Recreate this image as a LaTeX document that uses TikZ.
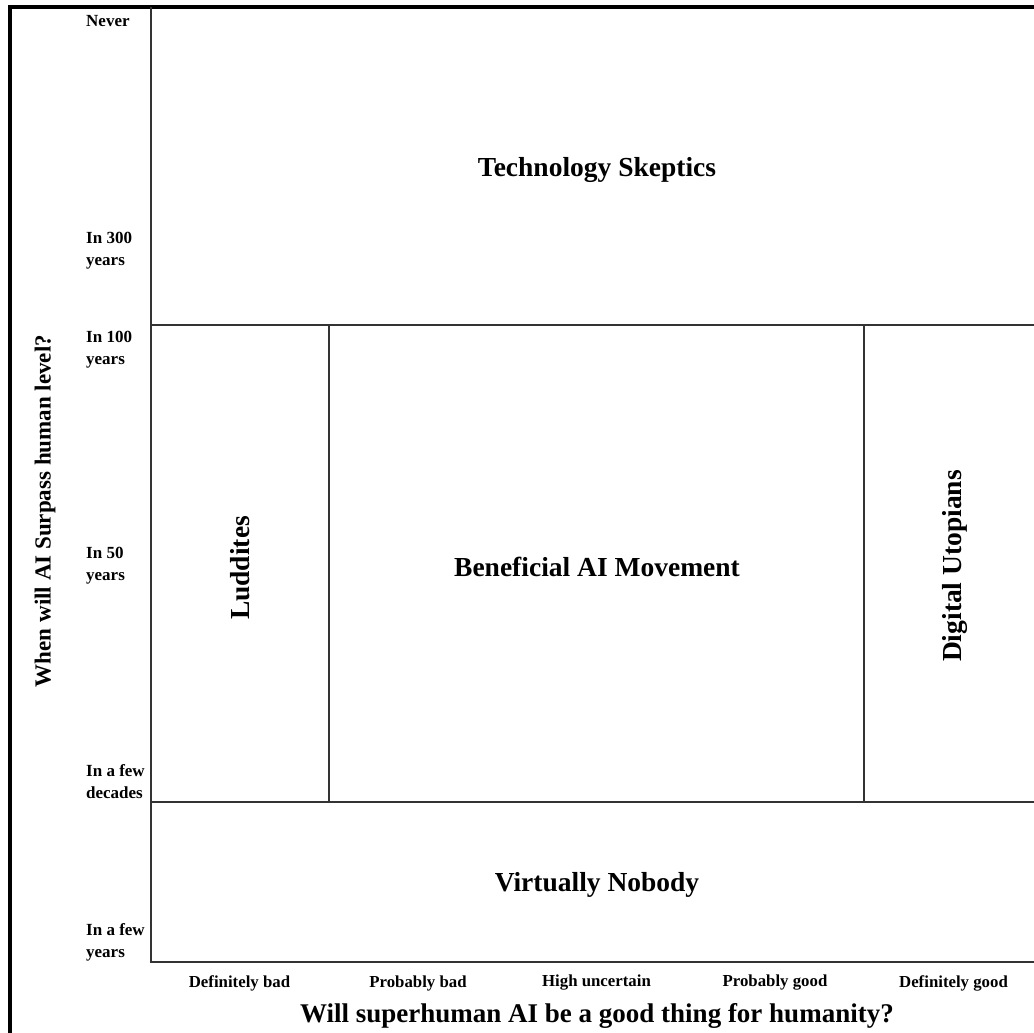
\documentclass[tikz,border=0pt]{standalone}
\usepackage{fontspec}
\setmainfont{Liberation Serif}
\begin{document}
\begin{tikzpicture}[x=1pt,y=-1pt,
  region/.style={font=\fontsize{27.5}{33}\selectfont\bfseries},
  title/.style={font=\fontsize{27}{32}\selectfont\bfseries},
  ylabel/.style={font=\fontsize{17}{22}\selectfont\bfseries,
    align=left,anchor=west,inner sep=0pt},
  xlabel/.style={font=\fontsize{16.8}{20}\selectfont\bfseries,inner sep=0pt},
  grid/.style={draw=black!80,line width=1.2pt}]
  \useasboundingbox (0,0) rectangle (1034,1033);
  \clip (0,0) rectangle (1034,1033);
  % frame
  \draw[line width=4pt] (9.5,1040) |- (1040,7);
  % axes and cells
  \draw[grid] (151,7) -- (151,962) -- (1040,962);
  \draw[grid] (151,325) -- (1040,325);
  \draw[grid] (151,802) -- (1040,802);
  \draw[grid] (329,325) -- (329,802);
  \draw[grid] (864,325) -- (864,802);
  % cells
  \path (597,170) node[region] (skeptics) {Technology Skeptics};
  \path (597,567) node[region] (beneficial) {Beneficial AI Movement};
  \path (597,885) node[region] (nobody) {Virtually Nobody};
  \path (240,568) node[region,rotate=90] (luddites) {Luddites};
  \path (955,566) node[region,rotate=90] (utopians) {Digital Utopians};
  % axis ticks
  \foreach \yy/\lbl [count=\i] in {21/Never, 251/{In 300\\years},
      350/{In 100\\years}, 566/{In 50\\years},
      782/{In a few\\decades}, 942/{In a few\\years}}
    \path (86,\yy) node[ylabel] (yt\i) {\lbl};
  \foreach \lbl [count=\i] in {Definitely bad, Probably bad,
      High uncertain, Probably good, Definitely good}
    \path (61+178.5*\i,983) node[xlabel] (xt\i) {\lbl};
  % axis titles
  \path (597,1016) node[title] (xtitle)
    {Will superhuman AI be a good thing for humanity?};
  \path (45,511) node[title,rotate=90,font=\fontsize{23}{28}\selectfont\bfseries]
    (ytitle) {When will AI Surpass human level?};
\end{tikzpicture}
\end{document}
